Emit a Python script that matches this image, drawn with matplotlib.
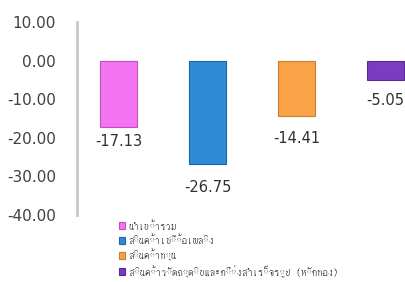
import matplotlib
matplotlib.use("Agg")
import matplotlib.pyplot as plt
from matplotlib import font_manager
from matplotlib.ft2font import FT2Font

categories = ["นำเข้ารวม", "สินค้าเชื้อเพลิง", "สินค้าทุน",
              "สินค้าวัตถุดิบและกึ่งสำเร็จรูป (หักทอง)"]
values = [-17.13, -26.75, -14.41, -5.05]
yticks = [10, 0, -10, -20, -30, -40]

colors = ["#F574F2", "#2E8BD6", "#F9A247", "#7A3DC2"]
edges = ["#C050C0", "#1E64A8", "#C8802F", "#5A2A94"]
label_gap = [11, 17, 16, 15]  # points below bar end

# find an installed font that has Thai glyphs
thai_font = None
for path in font_manager.findSystemFonts():
    try:
        if 0x0E2A in FT2Font(path).get_charmap():
            thai_font = font_manager.FontProperties(fname=path).get_name()
            font_manager.fontManager.addfont(path)
            break
    except Exception:
        pass
families = [thai_font, "DejaVu Sans"] if thai_font else ["DejaVu Sans"]

fig = plt.figure(figsize=(4.06, 2.82), dpi=100)
ax = fig.add_axes([77 / 406, 1 - 215 / 282, 1 - 77 / 406, (215 - 22) / 282])

x = list(range(len(values)))
for i, v in enumerate(values):
    ax.bar(x[i], v, width=0.42, color=colors[i], edgecolor=edges[i],
           linewidth=0.8, label=categories[i])
    ax.annotate(f"{v:.2f}", (x[i], v), xytext=(0, -label_gap[i]),
                textcoords="offset points", ha="center", va="center",
                fontsize=10.5, color="#303030", annotation_clip=False)

ax.set_xlim(-0.47, 3.23)
ax.set_ylim(-40, 10)
ax.set_yticks(yticks)
ax.set_yticklabels([f"{t:.2f}" for t in yticks], fontsize=11, color="#404040")
ax.tick_params(axis="y", length=0, pad=15)
ax.set_xticks([])
for s in ["top", "right", "bottom"]:
    ax.spines[s].set_visible(False)
ax.spines["left"].set_color("#C8C8C8")
ax.spines["left"].set_linewidth(2)

leg = fig.legend(loc="upper left", bbox_to_anchor=(119 / 406, 1 - 220 / 282),
                 frameon=False, prop={"family": families, "size": 7.8},
                 handlelength=0.6, handleheight=0.6, handletextpad=0.3,
                 labelspacing=0.35, borderpad=0, borderaxespad=0)
for t in leg.get_texts():
    t.set_color("#404040")

fig.savefig("out.png", dpi=100)
